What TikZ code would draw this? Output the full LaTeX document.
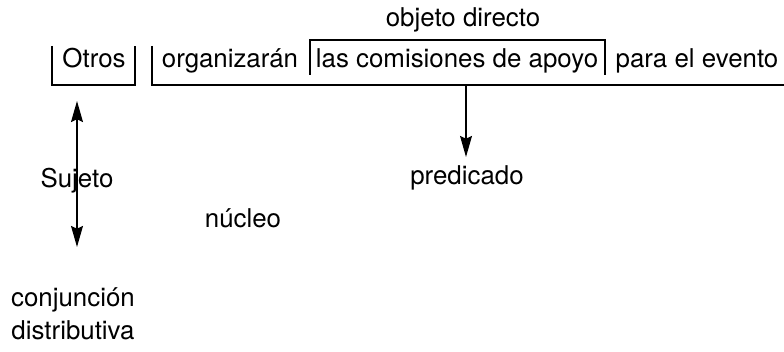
\documentclass[tikz,border=0pt]{standalone}
\usepackage{fontspec}
\setmainfont{TeX Gyre Heros}
\usetikzlibrary{arrows.meta, positioning}

\begin{document}
\begin{tikzpicture}[x=0.025cm, y=-0.025cm, line width=0.8pt,
    font=\fontsize{18.4}{22}\selectfont,
    word/.style={inner sep=0pt, anchor=base},
    tip/.style={-{Stealth[length=15pt,width=8.5pt,inset=2pt]}},
    tips/.style={{Stealth[length=15pt,width=8.5pt,inset=2pt]}-{Stealth[length=15pt,width=8.5pt,inset=2pt]}}]

    \useasboundingbox (0,0) rectangle (784,352);

    % Sentence
    \node[word] (otros) at (94,68) {Otros};
    \node[word] (verbo) at (230,68) {organizarán};
    \node[word] (od) at (457,68) {las comisiones de apoyo};
    \node[word] (cc) at (697,68) {para el evento};

    % Brackets
    \draw (52,46) |- (135,85) -- (135,46);
    \draw (152,46) |- (784,85);
    \draw (310,75) |- (605,40) -- (605,75);

    % Labels
    \node[word] (odlabel) at (463,27) {objeto directo};
    \node[word] (pred) at (467,185) {predicado};
    \node[word] (suj) at (77,188) {Sujeto};
    \node[word] (nucleo) at (243,228) {núcleo};
    \node[word] (conj) at (73,307) {conjunción};
    \node[word] (dist) at (73,340) {distributiva};

    % Arrows
    \coordinate (predfrom) at (466,85);
    \coordinate (predto) at (466,157);
    \coordinate (sujtop) at (77,101);
    \coordinate (sujbot) at (77,247);
    \draw[tip] (predfrom) -- (predto);
    \draw[tips] (sujtop) -- (sujbot);

\end{tikzpicture}
\end{document}
